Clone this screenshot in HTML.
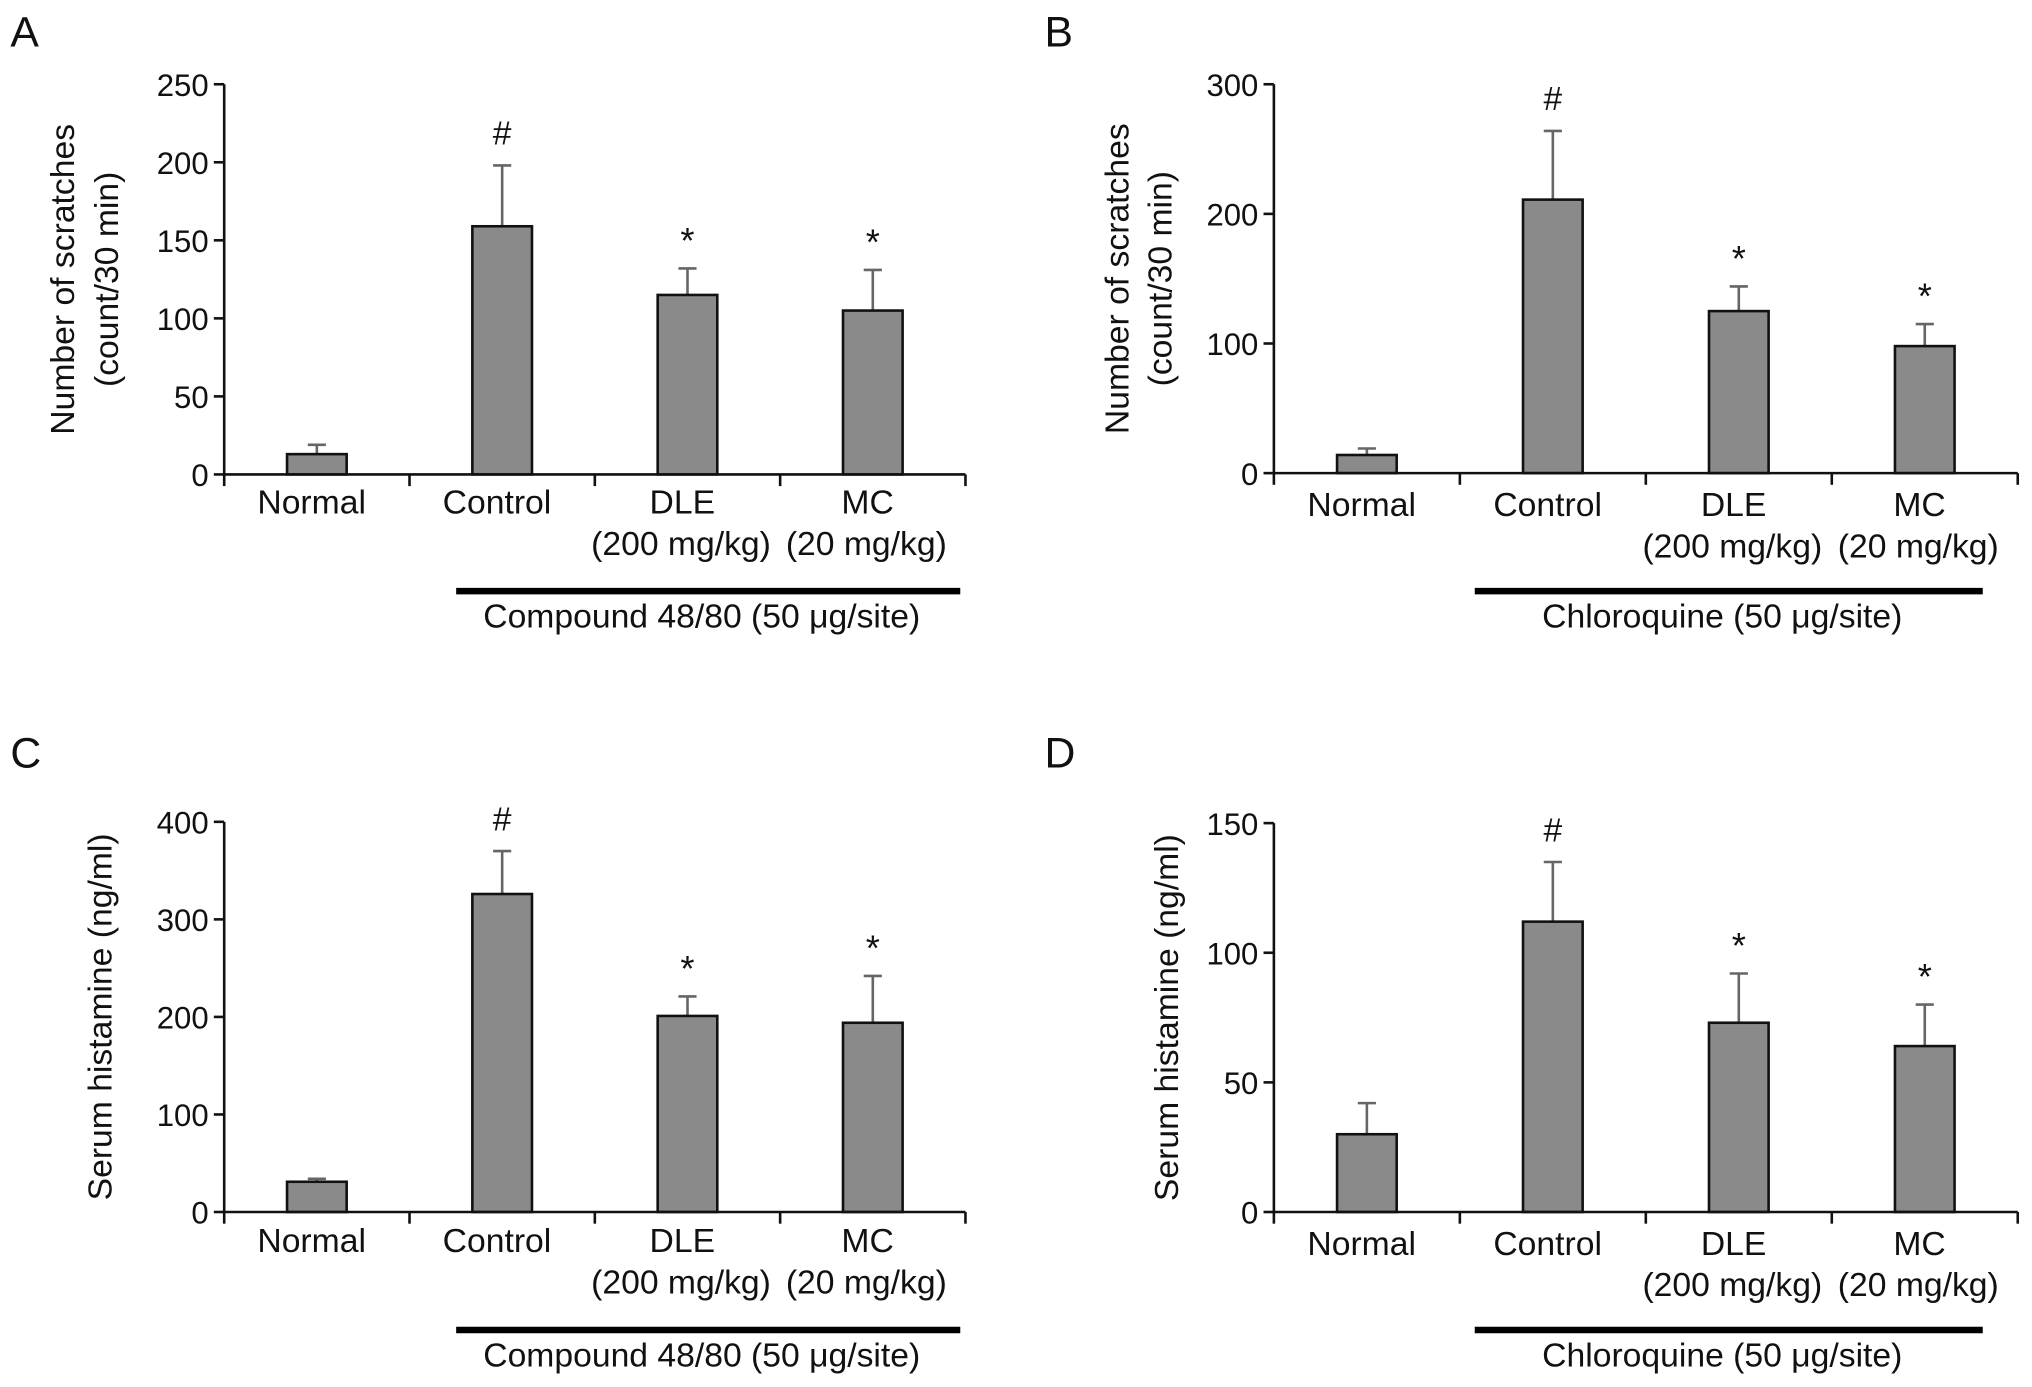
<!DOCTYPE html>
<html><head><meta charset="utf-8"><style>
html,body{margin:0;padding:0;background:#fff}
svg{display:block}
text{font-family:"Liberation Sans",Arial,sans-serif;fill:#111}
</style></head><body>
<svg id="fig" width="2032" height="1387" viewBox="0 0 1568 1070" preserveAspectRatio="none" xmlns="http://www.w3.org/2000/svg"></svg>
<script>
const categories = ["Normal","Control","DLE","MC"];
const sublabels = ["","","(200 mg/kg)","(20 mg/kg)"];
const valuesA = [13,159,115,105];
const errorsA = [6,39,17,26];
const marksA = ["","#","*","*"];
const ticksA = [0,50,100,150,200,250];
const valuesB = [14,211,125,98];
const errorsB = [5,53,19,17];
const marksB = ["","#","*","*"];
const ticksB = [0,100,200,300];
const valuesC = [31,326,201,194];
const errorsC = [3,44,20,48];
const marksC = ["","#","*","*"];
const ticksC = [0,100,200,300,400];
const valuesD = [30,112,73,64];
const errorsD = [12,23,19,16];
const marksD = ["","#","*","*"];
const ticksD = [0,50,100,150];

const NS="http://www.w3.org/2000/svg";
const svg=document.getElementById('fig');
function mk(tag,attrs,parent){const e=document.createElementNS(NS,tag);for(const k in attrs)e.setAttribute(k,attrs[k]);(parent||svg).appendChild(e);return e;}

const panels=[
 {id:'a',letter:'A',lx:8,ly:36,x0:173,x1:745,yTop:65,yZero:366,values:valuesA,errors:errorsA,marks:marksA,ticks:ticksA,
  title:["Number of scratches","(count/30 min)"],tx:[48,82],labY:[396,428],lineY:456,lineX:[352,741],treat:"Compound 48/80 (50 μg/site)",treatY:484},
 {id:'b',letter:'B',lx:806,ly:36,x0:983,x1:1557,yTop:65,yZero:365,values:valuesB,errors:errorsB,marks:marksB,ticks:ticksB,
  title:["Number of scratches","(count/30 min)"],tx:[862,895],labY:[398,430],lineY:456,lineX:[1138,1530],treat:"Chloroquine (50 μg/site)",treatY:484},
 {id:'c',letter:'C',lx:8,ly:592,x0:173,x1:745,yTop:634,yZero:935,values:valuesC,errors:errorsC,marks:marksC,ticks:ticksC,
  title:["Serum histamine (ng/ml)"],tx:[77],labY:[966,998],lineY:1026,lineX:[352,741],treat:"Compound 48/80 (50 μg/site)",treatY:1054},
 {id:'d',letter:'D',lx:806,ly:592,x0:983,x1:1557,yTop:635,yZero:935,values:valuesD,errors:errorsD,marks:marksD,ticks:ticksD,
  title:["Serum histamine (ng/ml)"],tx:[900],labY:[968,1000],lineY:1026,lineX:[1138,1530],treat:"Chloroquine (50 μg/site)",treatY:1054}
];

panels.forEach(p=>{
  const g=mk('g',{});
  
  
  const maxT=p.ticks[p.ticks.length-1];
  const y=v=>p.yZero-(v/maxT)*(p.yZero-p.yTop);
  const step=(p.x1-p.x0)/categories.length;
  const xc=i=>p.x0+step*(i+0.5);
  const L=mk('text',{x:p.lx,y:p.ly,'font-size':33},g);L.textContent=p.letter;
  
  
  const ya=mk('line',{x1:p.x0,y1:p.yTop,x2:p.x0,y2:p.yZero,stroke:'#111','stroke-width':2},g);
  
  
  p.ticks.forEach(t=>{
    mk('line',{x1:p.x0-8,y1:y(t),x2:p.x0,y2:y(t),stroke:'#111','stroke-width':2},g);
    const tl=mk('text',{x:p.x0-12,y:y(t)+9,'font-size':24,'text-anchor':'end'},g);tl.textContent=t;
    
    
  });
  p.title.forEach((s,k)=>{
    const cy=(p.yTop+p.yZero)/2;
    const tt=mk('text',{x:p.tx[k],y:cy,'font-size':26,'text-anchor':'middle',transform:`rotate(-90 ${p.tx[k]} ${cy})`,dy:9},g);tt.textContent=s;
    
    
  });
  categories.forEach((c,i)=>{
    const v=p.values[i],e=p.errors[i],cx=xc(i),w=46;
    const el=mk('line',{x1:cx,y1:y(v),x2:cx,y2:y(v+e),stroke:'#666','stroke-width':2},g);
    
    
    mk('line',{x1:cx-7,y1:y(v+e),x2:cx+7,y2:y(v+e),stroke:'#666','stroke-width':2},g);
    const b=mk('rect',{x:cx-w/2,y:y(v),width:w,height:p.yZero-y(v),fill:'#8a8a8a',stroke:'#111','stroke-width':2},g);
    
    
    if(p.marks[i]){
      const m=mk('text',{x:cx,y:y(v+e)-(p.marks[i]==='#'?16:12),'font-size':p.marks[i]==='#'?26:28,'text-anchor':'middle'},g);
      m.textContent=p.marks[i];
      
      
    }
    const cl=mk('text',{x:cx-4,y:p.labY[0],'font-size':26,'text-anchor':'middle'},g);cl.textContent=c;
    
    
    if(sublabels[i]){const sl=mk('text',{x:cx-5,y:p.labY[1],'font-size':26,'text-anchor':'middle'},g);sl.textContent=sublabels[i];
      
      }
  });
  const xa=mk('line',{x1:p.x0,y1:p.yZero,x2:p.x1,y2:p.yZero,stroke:'#111','stroke-width':2},g);
  
  
  for(let i=0;i<=categories.length;i++){
    mk('line',{x1:p.x0+step*i,y1:p.yZero,x2:p.x0+step*i,y2:p.yZero+9,stroke:'#111','stroke-width':2},g);
  }
  const tl=mk('line',{x1:p.lineX[0],y1:p.lineY,x2:p.lineX[1],y2:p.lineY,stroke:'#000','stroke-width':5},g);
  
  
  const tt=mk('text',{x:(p.lineX[0]+p.lineX[1])/2-5,y:p.treatY,'font-size':26,'text-anchor':'middle'},g);tt.textContent=p.treat;
  
  
});
</script>
</body></html>
